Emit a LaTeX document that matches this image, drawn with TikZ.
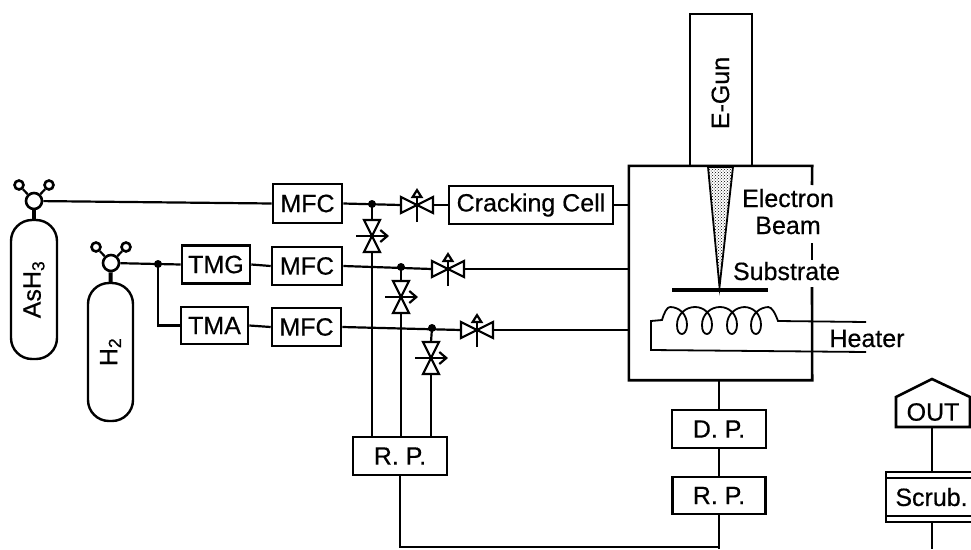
\documentclass[tikz,border=0pt]{standalone}
\usepackage{fontspec}
\setmainfont[RawFeature={embolden=0.5}]{Liberation Sans}
\usetikzlibrary{arrows.meta,patterns}
\tikzset{
    pipe/.style={line width=2.2pt},
    box/.style={draw,line width=2.6pt,inner sep=0pt,font=\fontsize{25}{30}\selectfont},
    lbl/.style={anchor=base,inner sep=0pt,font=\fontsize{25}{30}\selectfont},
    bottle/.style={draw,line width=2.4pt,rounded corners=21pt,rotate=90,inner sep=0pt,font=\fontsize{25}{30}\selectfont},
    knob/.style={draw,circle,fill=white,line width=2.6pt,inner sep=0pt},
    joint/.style={circle,fill=black,inner sep=0pt,minimum size=8pt},
    spot/.style={inner sep=0pt,minimum width=32pt,minimum height=16pt},
    spotv/.style={inner sep=0pt,minimum width=16pt,minimum height=32pt},
}
\begin{document}
\begin{tikzpicture}[x=1pt,y=-1pt]
    \useasboundingbox (0,0) rectangle (971,549);
    % gas bottles
    \node[bottle,minimum width=139pt,minimum height=46pt] (ash) at (34,289.5) {AsH\textsubscript{3}};
    \node[bottle,minimum width=138pt,minimum height=45pt] (htwo) at (110.5,352) {H\textsubscript{2}};
    % bottle heads
    \foreach \n/\x/\y in {As/34/201, Ht/111/263} {
        \node[knob,minimum size=16pt] (head\n) at (\x,\y) {};
        \node[knob,minimum size=9pt] (left\n) at ({\x-15},{\y-16}) {};
        \node[knob,minimum size=9pt] (right\n) at ({\x+15},{\y-16}) {};
        \draw[pipe] (head\n) -- (left\n);
        \draw[pipe] (head\n) -- (right\n);
    }
    \draw[line width=4pt] (headAs) -- (ash.east);
    \draw[line width=4pt] (headHt) -- (htwo.east);
    % flow controllers and sources
    \node[box,minimum width=68pt,minimum height=38pt] (tmg) at (216,264.5) {TMG};
    \node[box,minimum width=67pt,minimum height=37pt] (tma) at (214.5,325.5) {TMA};
    \node[box,minimum width=69pt,minimum height=39pt] (mfcA) at (307.5,203.5) {MFC};
    \node[box,minimum width=70pt,minimum height=38pt] (mfcB) at (307,266) {MFC};
    \node[box,minimum width=69pt,minimum height=38pt] (mfcC) at (306.5,327) {MFC};
    \node[box,minimum width=164pt,minimum height=38pt] (crack) at (531,205) {Cracking Cell};
    % chamber, right wall has gaps for the labels
    \node[inner sep=0pt,minimum width=183pt,minimum height=214pt] (chamber) at (720.5,273) {};
    \draw[line width=2.6pt] (812,185) -- (chamber.north east) -- (chamber.north west)
        -- (chamber.south west) -- (chamber.south east) -- (812,287);
    \draw[line width=2.6pt] (812,243) -- (812,260);
    \node[box,minimum width=62pt,minimum height=152pt] (egun) at (721,90) {};
    \node[lbl,rotate=90] (eguntxt) at (729,93) {E-Gun};
    % beam and substrate
    \draw[line width=1.8pt,pattern=crosshatch dots] (708,167) -- (733,167) -- (719.5,287) -- cycle;
    \draw[line width=4.5pt] (672,290) -- (768,290);
    \node[lbl] (elec) at (788,207) {Electron};
    \node[lbl] (beam) at (788,234) {Beam};
    \node[lbl] (subs) at (786.5,280) {Substrate};
    % heater
    \draw[line width=1.8pt] (866,322) -- (778,321) .. controls (775,313) and (772,307) .. (768,307);
    \foreach \x in {682,707,732,756} {
        \draw[line width=1.8pt] ({\x-12},307) .. controls ({\x-3},307) and ({\x+5},314) .. ({\x+5},325)
            .. controls ({\x+5},331) and ({\x+2},334) .. (\x,334)
            .. controls ({\x-3},334) and ({\x-5},331) .. ({\x-5},325)
            .. controls ({\x-5},314) and ({\x+4},307) .. ({\x+13},307);
    }
    \draw[line width=1.8pt] (670,307) .. controls (667,307) and (664,313) .. (662,320) -- (651,321)
        -- (651,350) -- (866,352);
    \node[lbl] (heat) at (867,347) {Heater};
    % pumps
    \node[box,minimum width=94pt,minimum height=38pt] (dp) at (719,429) {D. P.};
    \node[box,minimum width=93pt,minimum height=37pt] (rpB) at (719,495.5) {R. P.};
    \node[box,minimum width=94pt,minimum height=38pt] (rpA) at (400,456) {R. P.};
    \coordinate (drain) at (719,549);
    % scrubber and outlet
    \node[inner sep=0pt,minimum width=85pt,minimum height=50pt,font=\fontsize{25}{30}\selectfont] (scrub) at (931.5,497) {Scrub.};
    \draw[line width=2.6pt] (971,472) -- (886,472) -- (886,522) -- (971,522);
    \draw[line width=2.2pt] (886,478) -- (971,478);
    \draw[line width=2.2pt] (886,516) -- (971,516);
    \node[inner sep=0pt,minimum width=75pt,minimum height=30pt,font=\fontsize{25}{30}\selectfont] (outlet) at (933,412) {OUT};
    \draw[line width=2.6pt] (896,397) -- (932,379) -- (970,397) -- (970,427) -- (896,427) -- cycle;
    \coordinate (scrubin) at (932,549);
    % gas lines
    \draw[pipe] (headAs) -- (mfcA.west);
    \draw[pipe] (headHt) -- (tmg.west);
    \node[joint] (jH) at (158,264) {};
    \draw[pipe] (jH.center) |- (tma.west);
    \draw[pipe] (tmg.east) -- (mfcB.west);
    \draw[pipe] (tma.east) -- (mfcC.west);
    \node[joint] (jA) at (372,204) {};
    \node[joint] (jB) at (401,267) {};
    \node[joint] (jC) at (432,328) {};
    % in-line valves
    \foreach \n/\x/\y in {vlvA/417/205, vlvB/448/269, vlvC/477/330} {
        \node[spot] (\n) at (\x,\y) {};
        \draw[pipe,line join=miter,fill=white] ({\x-16},{\y-8}) -- (\x,\y) -- ({\x-16},{\y+8}) -- cycle;
        \draw[pipe,line join=miter,fill=white] ({\x+16},{\y-8}) -- (\x,\y) -- ({\x+16},{\y+8}) -- cycle;
        \draw[pipe,-{Triangle[open,length=10pt,width=12pt]}] (\x,{\y+17}) -- (\x,{\y-17});
    }
    % valves to the rough pump
    \foreach \n/\x/\y in {vlvD/372/236, vlvE/401/297, vlvF/431/358} {
        \node[spotv] (\n) at (\x,\y) {};
        \draw[pipe,line join=miter,fill=white] ({\x-8},{\y-16}) -- (\x,\y) -- ({\x+8},{\y-16}) -- cycle;
        \draw[pipe,line join=miter,fill=white] ({\x-8},{\y+16}) -- (\x,\y) -- ({\x+8},{\y+16}) -- cycle;
        \draw[pipe,-{Straight Barb[length=7pt,width=12pt]}] ({\x-16},\y) -- ({\x+17},\y);
    }
    \draw[pipe] (mfcA.east) -- (vlvA.west);
    \draw[pipe] (vlvA.east) -- (crack.west);
    \draw[pipe] (crack.east) -- (crack.east -| chamber.west);
    \draw[pipe] (mfcB.east) -- (vlvB.west);
    \draw[pipe] (vlvB.east) -- (vlvB.east -| chamber.west);
    \draw[pipe] (mfcC.east) -- (vlvC.west);
    \draw[pipe] (vlvC.east) -- (vlvC.east -| chamber.west);
    \draw[pipe] (jA.center) -- (vlvD.north);
    \draw[pipe] (jB.center) -- (vlvE.north);
    \draw[pipe] (jC.center) -- (vlvF.north);
    \draw[pipe] (vlvD.south) -- (vlvD.south |- rpA.north);
    \draw[pipe] (vlvE.south) -- (vlvE.south |- rpA.north);
    \draw[pipe] (vlvF.south) -- (vlvF.south |- rpA.north);
    % exhaust lines
    \draw[pipe] (chamber.south -| dp.north) -- (dp.north);
    \draw[pipe] (dp.south) -- (rpB.north);
    \draw[pipe] (rpB.south) -- (drain);
    \draw[pipe] (rpA.south) |- (719,547);
    \draw[pipe] (outlet.south -| scrubin) -- (scrub.north -| scrubin);
    \draw[pipe] (scrub.south -| scrubin) -- (scrubin);
\end{tikzpicture}
\end{document}
